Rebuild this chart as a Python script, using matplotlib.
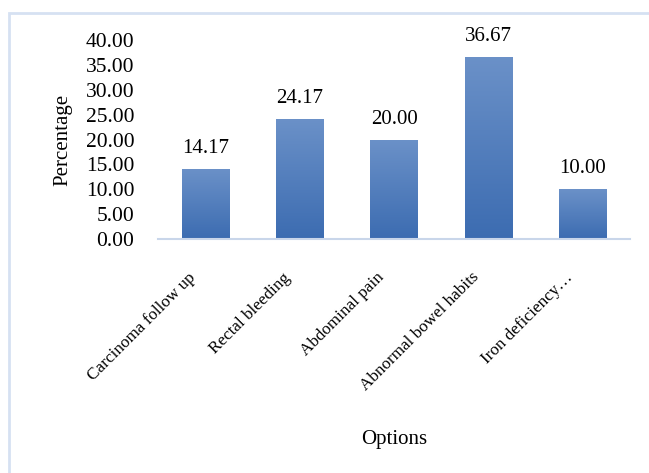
import numpy as np
import matplotlib.pyplot as plt
import matplotlib.transforms as mtransforms
from matplotlib.patches import Rectangle

categories = ["Carcinoma follow up", "Rectal bleeding", "Abdominal pain",
              "Abnormal bowel habits", "Iron deficiency\u2026"]
values = [14.17, 24.17, 20.00, 36.67, 10.00]
yticks = [0, 5, 10, 15, 20, 25, 30, 35, 40]

plt.rcParams['font.family'] = ['Liberation Serif', 'DejaVu Serif']

fig = plt.figure(figsize=(6.49, 4.73), dpi=100)
ax = fig.add_axes([0.2435, 0.4947, 0.7272, 0.4207])

x = np.arange(len(categories))
bars = ax.bar(x, values, width=0.5, color="#4a7bbf", zorder=2)

# vertical gradient on every bar, light at top, dark at bottom
grad = np.linspace(0, 1, 256).reshape(-1, 1)
cmap = plt.matplotlib.colors.LinearSegmentedColormap.from_list(
    "barfade", ["#3c6cb1", "#6b91c8"])
for b in bars:
    bx, by = b.get_x(), b.get_y()
    w, h = b.get_width(), b.get_height()
    im = ax.imshow(grad, cmap=cmap, aspect="auto", origin="lower",
                   extent=[bx, bx + w, by, by + h], zorder=3)
    im.set_clip_path(b)

for xi, v in zip(x, values):
    ax.text(xi, v + 2.2, f"{v:.2f}", ha="center", va="bottom", fontsize=15,
            clip_on=False)

ax.set_xlim(-0.5, len(categories) - 0.5)
ax.set_ylim(0, 40)
ax.set_yticks(yticks)
ax.set_yticklabels([f"{t:.2f}" for t in yticks], fontsize=15.5)
ax.set_xticks(x)
ax.set_xticklabels(categories, rotation=45, ha="right", va="center",
                   rotation_mode="anchor", fontsize=12.3)
ax.tick_params(axis="both", length=0)
ax.tick_params(axis="y", pad=17)
ax.tick_params(axis="x", pad=26)
# nudge the slanted labels so their ends sit under the ticks
shift = mtransforms.ScaledTranslation(-12 / 100, 0, fig.dpi_scale_trans)
for lbl in ax.get_xticklabels():
    lbl.set_transform(lbl.get_transform() + shift)

for s in ["top", "right", "left"]:
    ax.spines[s].set_visible(False)
ax.spines["bottom"].set_color("#c9d6ea")
ax.spines["bottom"].set_linewidth(1.5)
ax.spines["bottom"].set_zorder(4)

ax.set_ylabel("Percentage", fontsize=15, labelpad=10)
ax.set_xlabel("Options", fontsize=15)
ax.xaxis.set_label_coords(0.5, -0.96)

# light border of the chart area
fig.patches.append(Rectangle((9 / 649, -0.1), 1.2, 1 - 13 / 473 + 0.1,
                             transform=fig.transFigure, fill=False,
                             edgecolor="#d6e1f2", linewidth=2))

fig.savefig("out.png", dpi=100)
